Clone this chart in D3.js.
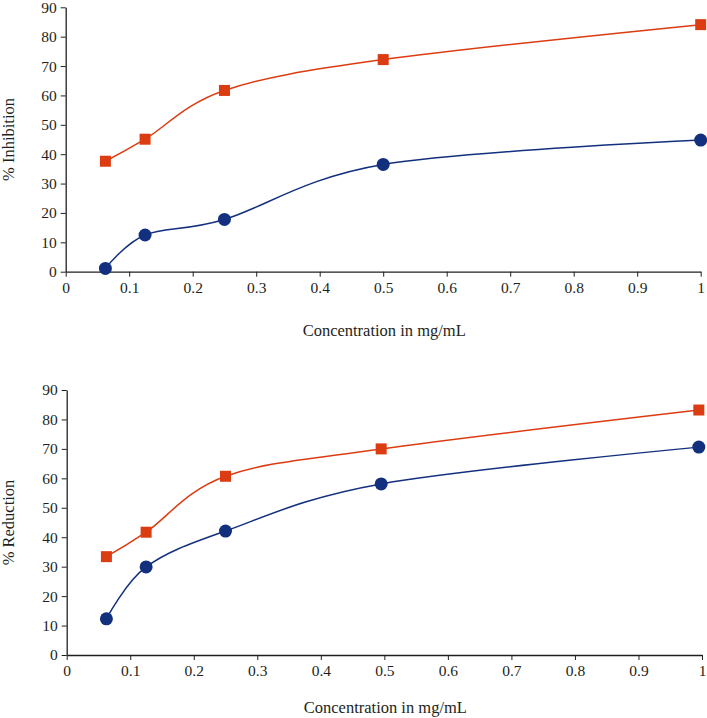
<!DOCTYPE html>
<html><head><meta charset="utf-8">
<script src="https://cdn.jsdelivr.net/npm/d3@7"></script>
<style>body{margin:0;background:#fff}svg{display:block}text{font-family:"Liberation Serif","DejaVu Serif",serif;fill:#231f20}</style>
</head><body><svg id="c" width="707" height="718"></svg>
<script>
const concTop = [0.0625, 0.125, 0.25, 0.5, 1];
const inhibitionOrange = [37.6, 45.1, 61.7, 72.2, 84.1];
const inhibitionBlue = [1.1, 12.5, 17.8, 36.5, 44.8];
const concBottom = [0.0625, 0.125, 0.25, 0.495, 0.995];
const reductionOrange = [33.4, 41.7, 60.7, 70.0, 83.2];
const reductionBlue = [12.3, 29.9, 42.1, 58.1, 70.6];
const xTicks = [0,0.1,0.2,0.3,0.4,0.5,0.6,0.7,0.8,0.9,1];
const yTicks = [0,10,20,30,40,50,60,70,80,90];
const xTitle = "Concentration in mg/mL";
const yTitles = ["% Inhibition", "% Reduction"];
const ORANGE = "#dc3c12", BLUE = "#13307f";

const svg = d3.select("#c");
function panel(top, bottom, left, right, xs, o, b, ytitle, xTitleY) {
  const x = d3.scaleLinear().domain([0,1]).range([left,right]);
  const y = d3.scaleLinear().domain([0,90]).range([bottom,top]);
  const g = svg.append("g");
  const fmt = d => d===0?"0":(d===1?"1":d3.format(".1f")(d));
  g.append("g").attr("transform",`translate(0,${bottom})`)
    .call(d3.axisBottom(x).tickValues(xTicks).tickFormat(fmt).tickSize(5).tickSizeOuter(0))
    .call(a=>{a.select(".domain").attr("stroke","#231f20").attr("stroke-width",1.3);
      a.selectAll("line").attr("stroke","#231f20");
      a.selectAll("text").attr("font-size",15.5).attr("y",10).attr("dy","0.71em");});
  g.append("g").attr("transform",`translate(${left},0)`)
    .call(d3.axisLeft(y).tickValues(yTicks).tickSize(5).tickSizeOuter(0))
    .call(a=>{a.select(".domain").attr("stroke","#231f20").attr("stroke-width",1.3);
      a.selectAll("line").attr("stroke","#231f20");
      a.selectAll("text").attr("font-size",15.5).attr("x",-9);});
  const line = d3.line().curve(d3.curveCardinal.tension(0)).x(d=>x(d[0])).y(d=>y(d[1]));
  const od = xs.map((v,i)=>[v,o[i]]), bd = xs.map((v,i)=>[v,b[i]]);
  g.append("path").attr("d",line(bd)).attr("fill","none").attr("stroke",BLUE).attr("stroke-width",1.5);
  g.append("path").attr("d",line(od)).attr("fill","none").attr("stroke",ORANGE).attr("stroke-width",1.5);
  g.selectAll(".c").data(bd).enter().append("circle").attr("cx",d=>x(d[0])).attr("cy",d=>y(d[1])).attr("r",6.5).attr("fill",BLUE);
  g.selectAll(".s").data(od).enter().append("rect").attr("x",d=>x(d[0])-5.5).attr("y",d=>y(d[1])-5.5).attr("width",11).attr("height",11).attr("fill",ORANGE);
  g.append("text").attr("x",(left+right)/2+1).attr("y",xTitleY).attr("text-anchor","middle").attr("font-size",16.5).text(xTitle);
  g.append("text").attr("transform",`translate(14,${(top+bottom)/2}) rotate(-90)`).attr("text-anchor","middle").attr("font-size",16.5).text(ytitle);
}
panel(7.3, 271.7, 65.7, 700.7, concTop, inhibitionOrange, inhibitionBlue, yTitles[0], 336);
panel(390, 655, 66.7, 702, concBottom, reductionOrange, reductionBlue, yTitles[1], 713);
</script></body></html>
